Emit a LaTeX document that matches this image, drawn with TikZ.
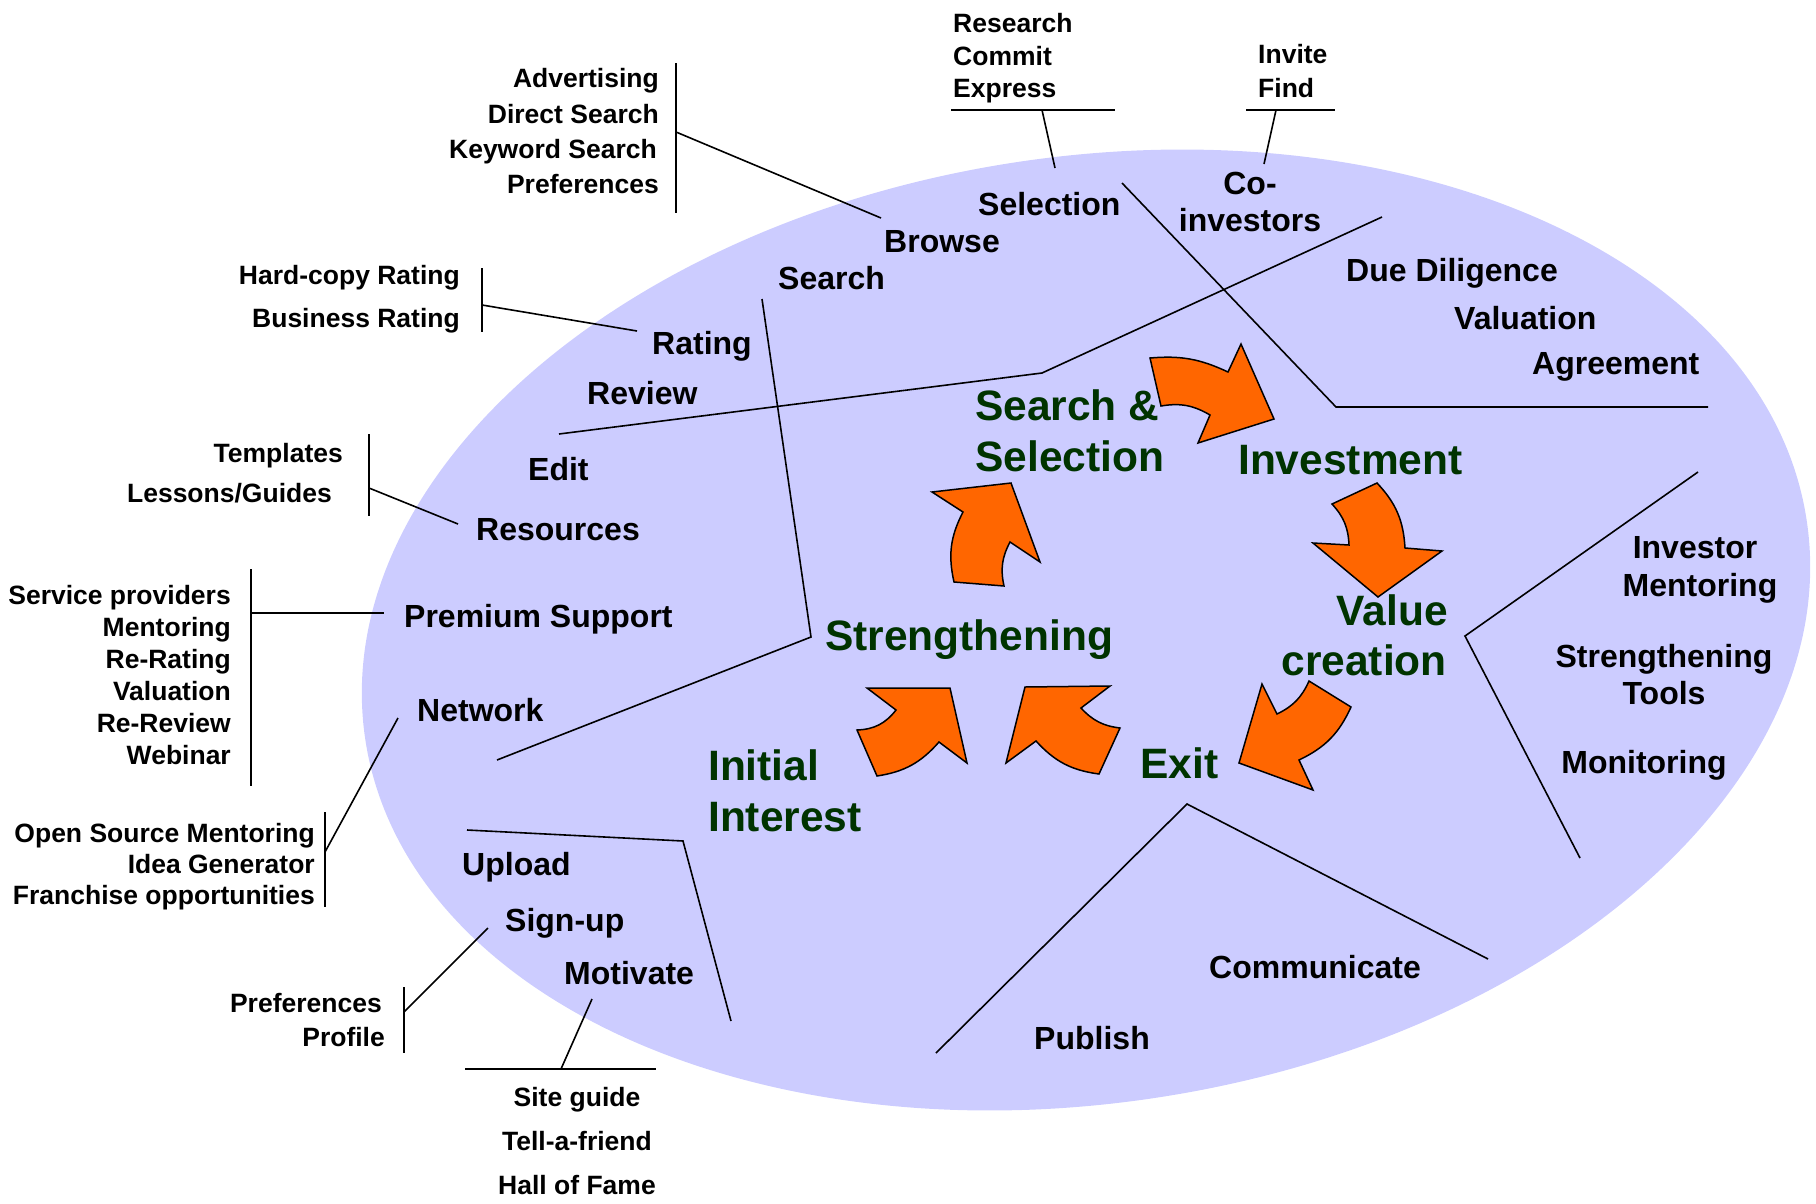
\documentclass[tikz,border=0pt]{standalone}
\usepackage{fontspec}
\setmainfont{Liberation Sans}
\usepackage{tikz}

\definecolor{ellblue}{HTML}{CCCCFF}
\definecolor{arroworange}{HTML}{FF6600}
\definecolor{phasegreen}{HTML}{003300}

\tikzset{
    sublabel/.style={font=\fontsize{26.5}{30}\selectfont\bfseries, inner sep=0pt},
    itemlabel/.style={font=\fontsize{32}{36}\selectfont\bfseries, inner sep=0pt},
    phaselabel/.style={font=\fontsize{42.5}{48}\selectfont\bfseries, text=phasegreen, inner sep=0pt},
    cyclearrow/.style={fill=arroworange, draw=black, line width=1.5pt, line join=miter},
    divider/.style={draw=black, line width=1.6pt},
    link/.style={draw=black, line width=1.6pt},
}

\begin{document}
\begin{tikzpicture}[x=1pt, y=-1pt]
    \useasboundingbox (0,0) rectangle (1816,1203);

    \fill[ellblue, rotate around={8.7:(1086,630)}] (1086,630) ellipse [x radius=729, y radius=473]; % platform

    % dividers between the phases
    \draw[divider] (559,434) -- (1042,373) -- (1382,217); % search | strengthening
    \draw[divider] (1122,183) -- (1336,407) -- (1708,407); % selection | investment
    \draw[divider] (762,299) -- (811,637) -- (497,760); % strengthening | initial
    \draw[divider] (467,830) -- (683,841) -- (731,1021); % initial | exit
    \draw[divider] (936,1053) -- (1187,804) -- (1488,959); % exit | communicate
    \draw[divider] (1698,472) -- (1465,636) -- (1580,858); % value creation

    % cycle arrows
    \path[cyclearrow] (1150,358) to[bend left=15] (1228,372) -- (1241,344) -- (1274,419) -- (1198,443) -- (1210,415) to[bend right=20] (1161,406) -- cycle; % to investment
    \path[cyclearrow] (1377,483) to[bend left=20] (1405,548) -- (1442,551) -- (1378,597) -- (1313,543) -- (1349,545) to[bend right=20] (1332,504) -- cycle; % to value creation
    \path[cyclearrow] (1351,707) to[bend left=20] (1299,760) -- (1313,790) -- (1239,763) -- (1262,684) -- (1277,714) to[bend right=20] (1309,681) -- cycle; % to exit
    \path[cyclearrow] (1099,774) to[bend left=20] (1036,741) -- (1006,763) -- (1025,687) -- (1110,686) -- (1081,708) to[bend right=20] (1120,728) -- cycle; % exit to strengthening
    \path[cyclearrow] (939,742) to[bend left=20] (877,776) -- (857,730) to[bend right=25] (896,710) -- (867,688) -- (950,688) -- (967,763) -- cycle; % initial to strengthening
    \path[cyclearrow] (954,582) to[bend left=20] (963,512) -- (932,492) -- (1011,483) -- (1040,562) -- (1010,542) to[bend right=20] (1004,586) -- cycle; % to search & selection

    % phases
    \node[phaselabel, anchor=base west] (ss1) at (975,420) {Search \&};
    \node[phaselabel, anchor=base west] (ss2) at (975,471) {Selection};
    \node[phaselabel, anchor=base west] (inv) at (1238,474) {Investment};
    \node[phaselabel, anchor=base east] (vc1) at (1448,625) {Value};
    \node[phaselabel, anchor=base east] (vc2) at (1447,675) {creation};
    \node[phaselabel, anchor=base west] (ex) at (1140,778) {Exit};
    \node[phaselabel, anchor=base west] (st) at (825,650) {Strengthening};
    \node[phaselabel, anchor=base west] (ii1) at (708,780) {Initial};
    \node[phaselabel, anchor=base west] (ii2) at (708,831) {Interest};

    % platform features
    \node[itemlabel, anchor=base west] (sel) at (978,215) {Selection};
    \node[itemlabel, anchor=base west] (brw) at (884,252) {Browse};
    \node[itemlabel, anchor=base west] (src) at (778,289) {Search};
    \node[itemlabel, anchor=base] (coi1) at (1250,194) {Co-};
    \node[itemlabel, anchor=base] (coi2) at (1250,231) {investors};
    \node[itemlabel, anchor=base west] (dd) at (1346,281) {Due Diligence};
    \node[itemlabel, anchor=base west] (val) at (1454,329) {Valuation};
    \node[itemlabel, anchor=base west] (agr) at (1532,374) {Agreement};
    \node[itemlabel, anchor=base west] (rat) at (652,354) {Rating};
    \node[itemlabel, anchor=base west] (rev) at (587,404) {Review};
    \node[itemlabel, anchor=base west] (edt) at (528,480) {Edit};
    \node[itemlabel, anchor=base west] (res) at (476,540) {Resources};
    \node[itemlabel, anchor=base west] (prm) at (404,627) {Premium Support};
    \node[itemlabel, anchor=base west] (net) at (417,721) {Network};
    \node[itemlabel, anchor=base west] (upl) at (462,875) {Upload};
    \node[itemlabel, anchor=base west] (sgn) at (505,931) {Sign-up};
    \node[itemlabel, anchor=base west] (mot) at (564,984) {Motivate};
    \node[itemlabel, anchor=base] (im1) at (1695,558) {Investor};
    \node[itemlabel, anchor=base] (im2) at (1700,596) {Mentoring};
    \node[itemlabel, anchor=base] (stt1) at (1664,667) {Strengthening};
    \node[itemlabel, anchor=base] (stt2) at (1664,704) {Tools};
    \node[itemlabel, anchor=base] (mon) at (1644,773) {Monitoring};
    \node[itemlabel, anchor=base] (com) at (1315,978) {Communicate};
    \node[itemlabel, anchor=base] (pub) at (1092,1049) {Publish};

    % browse details
    \node[sublabel, anchor=base east] (adv1) at (659,87) {Advertising};
    \node[sublabel, anchor=base east] (adv2) at (659,123) {Direct Search};
    \node[sublabel, anchor=base east] (adv3) at (657,158) {Keyword Search};
    \node[sublabel, anchor=base east] (adv4) at (659,193) {Preferences};
    \coordinate (advtop) at (676,63);
    \coordinate (advbot) at (676,213);
    \coordinate (advjoin) at (676,132);
    \coordinate (brwend) at (881,218);
    \draw[link] (advtop) -- (advbot);
    \draw[link] (advjoin) -- (brwend);

    % rating details
    \node[sublabel, anchor=base east] (rt1) at (460,284) {Hard-copy Rating};
    \node[sublabel, anchor=base east] (rt2) at (460,327) {Business Rating};
    \coordinate (rttop) at (482,268);
    \coordinate (rtbot) at (482,332);
    \coordinate (rtjoin) at (482,305);
    \coordinate (ratend) at (637,331);
    \draw[link] (rttop) -- (rtbot);
    \draw[link] (rtjoin) -- (ratend);

    % resources details
    \node[sublabel, anchor=base east] (rs1) at (343,462) {Templates};
    \node[sublabel, anchor=base east] (rs2) at (332,502) {Lessons/Guides};
    \coordinate (rstop) at (369,434);
    \coordinate (rsbot) at (369,516);
    \coordinate (rsjoin) at (369,488);
    \coordinate (resend) at (458,524);
    \draw[link] (rstop) -- (rsbot);
    \draw[link] (rsjoin) -- (resend);

    % premium support details
    \node[sublabel, anchor=base east] (ps1) at (231,604) {Service providers};
    \node[sublabel, anchor=base east] (ps2) at (231,636) {Mentoring};
    \node[sublabel, anchor=base east] (ps3) at (231,668) {Re-Rating};
    \node[sublabel, anchor=base east] (ps4) at (231,700) {Valuation};
    \node[sublabel, anchor=base east] (ps5) at (231,732) {Re-Review};
    \node[sublabel, anchor=base east] (ps6) at (231,764) {Webinar};
    \coordinate (pstop) at (251,569);
    \coordinate (psbot) at (251,786);
    \coordinate (psjoin) at (251,613);
    \coordinate (prmend) at (384,613);
    \draw[link] (pstop) -- (psbot);
    \draw[link] (psjoin) -- (prmend);

    % network details
    \node[sublabel, anchor=base east] (nw1) at (315,842) {Open Source Mentoring};
    \node[sublabel, anchor=base east] (nw2) at (315,873) {Idea Generator};
    \node[sublabel, anchor=base east] (nw3) at (315,904) {Franchise opportunities};
    \coordinate (nwtop) at (325,812);
    \coordinate (nwbot) at (325,907);
    \coordinate (nwjoin) at (325,852);
    \coordinate (netend) at (398,718);
    \draw[link] (nwtop) -- (nwbot);
    \draw[link] (nwjoin) -- (netend);

    % sign-up details
    \node[sublabel, anchor=base east] (su1) at (382,1012) {Preferences};
    \node[sublabel, anchor=base east] (su2) at (385,1046) {Profile};
    \coordinate (sutop) at (404,987);
    \coordinate (subot) at (404,1053);
    \coordinate (sujoin) at (404,1012);
    \coordinate (sgnend) at (488,928);
    \draw[link] (sutop) -- (subot);
    \draw[link] (sujoin) -- (sgnend);

    % motivate details
    \node[sublabel, anchor=base] (mv1) at (577,1106) {Site guide};
    \node[sublabel, anchor=base] (mv2) at (577,1150) {Tell-a-friend};
    \node[sublabel, anchor=base] (mv3) at (577,1194) {Hall of Fame};
    \coordinate (mvleft) at (465,1069);
    \coordinate (mvright) at (656,1069);
    \coordinate (mvjoin) at (561,1069);
    \coordinate (motend) at (592,999);
    \draw[link] (mvleft) -- (mvright);
    \draw[link] (mvjoin) -- (motend);

    % selection details
    \node[sublabel, anchor=base west] (sl1) at (953,32) {Research};
    \node[sublabel, anchor=base west] (sl2) at (953,65) {Commit};
    \node[sublabel, anchor=base west] (sl3) at (953,97) {Express};
    \coordinate (slleft) at (951,110);
    \coordinate (slright) at (1115,110);
    \coordinate (sljoin) at (1042,110);
    \coordinate (selend) at (1055,168);
    \draw[link] (slleft) -- (slright);
    \draw[link] (sljoin) -- (selend);

    % co-investor details
    \node[sublabel, anchor=base west] (ci1) at (1258,63) {Invite};
    \node[sublabel, anchor=base west] (ci2) at (1258,97) {Find};
    \coordinate (cileft) at (1246,110);
    \coordinate (ciright) at (1335,110);
    \coordinate (cijoin) at (1276,110);
    \coordinate (coiend) at (1264,164);
    \draw[link] (cileft) -- (ciright);
    \draw[link] (cijoin) -- (coiend);
\end{tikzpicture}
\end{document}
